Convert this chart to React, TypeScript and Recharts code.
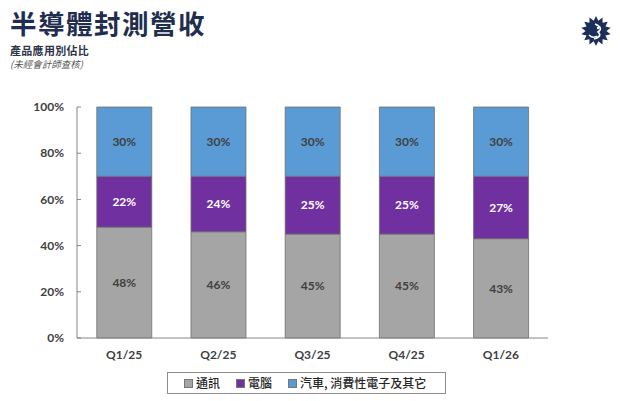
import React from "react";
import { BarChart, Bar, XAxis, YAxis, LabelList } from "recharts";

const categories = ["Q1/25", "Q2/25", "Q3/25", "Q4/25", "Q1/26"];
const commValues = [48, 46, 45, 45, 43];
const pcValues = [22, 24, 25, 25, 27];
const otherValues = [30, 30, 30, 30, 30];
const yTicks = [0, 20, 40, 60, 80, 100];
const boundaryTicks = [0, 1, 2, 3, 4, 5];

const seriesNames = ["通訊", "電腦", "汽車, 消費性電子及其它"];
const seriesColors = ["#a5a5a5", "#7030a0", "#5b9bd5"];
const labelColors = ["#404040", "#ffffff", "#404040"];

const data = categories.map((c, i) => ({
  name: c,
  idx: i + 0.5,
  comm: commValues[i],
  pc: pcValues[i],
  other: otherValues[i],
}));

const keys = ["comm", "pc", "other"];
const FONT = "Lato, 'Noto Sans CJK TC', sans-serif";
const CJK = "'Noto Sans CJK TC', sans-serif";

function Logo() {
  const cx = 596, cy = 31, rO = 15, rI = 10.5, n = 14;
  const pts: string[] = [];
  for (let i = 0; i < n * 2; i++) {
    const r = i % 2 === 0 ? rO : rI;
    const a = (Math.PI * i) / n - Math.PI / 2;
    pts.push(`${cx + r * Math.cos(a)},${cy + r * Math.sin(a)}`);
  }
  return (
    <svg width={620} height={60} style={{ position: "absolute", left: 0, top: 0 }}>
      <polygon points={pts.join(" ")} fill="#1c2f5a" />
      <path d={`M ${cx - 1} ${cy - 7} Q ${cx + 8} ${cy - 3} ${cx + 2} ${cy + 1} Q ${cx + 7} ${cy + 5} ${cx - 2} ${cy + 8}`} stroke="#fff" strokeWidth={1.6} fill="none" />
      <circle cx={cx + 2} cy={cy - 3} r={1.2} fill="#fff" />
      <path d={`M ${cx - 7} ${cy + 4} Q ${cx - 3} ${cy + 8} ${cx + 1} ${cy + 5}`} stroke="#fff" strokeWidth={1.4} fill="none" />
    </svg>
  );
}

export default function App() {
  return (
    <div style={{ position: "absolute", left: 0, top: 0, width: 620, height: 401, background: "#fff", overflow: "hidden" }}>
      <div style={{ position: "absolute", left: 10, top: 7.5, fontFamily: CJK, fontWeight: 700, fontSize: 26.5, color: "#1f2e4f", lineHeight: "30px", letterSpacing: 1.5 }}>
        半導體封測營收
      </div>
      <div style={{ position: "absolute", left: 10, top: 43.5, fontFamily: CJK, fontWeight: 700, fontSize: 11, color: "#2d3448", lineHeight: "13px", letterSpacing: 0.3 }}>
        產品應用別佔比
      </div>
      <div style={{ position: "absolute", left: 10, top: 59, fontFamily: CJK, fontStyle: "italic", fontSize: 9.5, color: "#555", lineHeight: "11px" }}>
        (未經會計師查核)
      </div>
      <Logo />
      <div style={{ position: "absolute", left: 0, top: 0 }}>
        <BarChart
          width={620}
          height={401}
          data={data}
          margin={{ top: 107, right: 72, bottom: 33, left: 0 }}
          barCategoryGap="21%"
        >
          <XAxis
            xAxisId="b"
            type="number"
            dataKey="idx"
            domain={[0, 5]}
            ticks={boundaryTicks}
            height={0}
            axisLine={false}
            tick={false}
            tickSize={-5}
            tickLine={{ stroke: "#868686" }}
          />
          <XAxis
            dataKey="name"
            height={30}
            axisLine={{ stroke: "#868686" }}
            tickLine={false}
            tickSize={0}
            tickMargin={12}
            tick={{ fill: "#404040", fontSize: 12, fontWeight: 700, fontFamily: FONT }}
          />
          <YAxis
            width={77}
            domain={[0, 100]}
            ticks={yTicks}
            tickFormatter={(v: number) => `${v}%`}
            axisLine={{ stroke: "#868686" }}
            tickLine={{ stroke: "#868686" }}
            tickSize={-4}
            tickMargin={17}
            tick={{ fill: "#404040", fontSize: 12, fontWeight: 700, fontFamily: FONT }}
          />
          {keys.map((k, i) => (
            <Bar
              key={k}
              dataKey={k}
              stackId="s"
              fill={seriesColors[i]}
              stroke="#6e6e6e"
              strokeWidth={0.8}
              isAnimationActive={false}
            >
              <LabelList
                dataKey={k}
                position="center"
                formatter={(v: number) => `${v}%`}
                fill={labelColors[i]}
                style={{ fontSize: 12, fontWeight: 700, fontFamily: FONT, fill: labelColors[i] }}
              />
            </Bar>
          ))}
        </BarChart>
      </div>
      <div
        style={{
          position: "absolute",
          left: 167,
          top: 372,
          width: 277,
          height: 20,
          border: "1px solid #8c8c8c",
          display: "flex",
          alignItems: "center",
          fontFamily: CJK,
          fontSize: 12,
          fontWeight: 500,
          color: "#262626",
          boxSizing: "content-box",
        }}
      >
        {seriesNames.map((n, i) => (
          <div key={n} style={{ display: "flex", alignItems: "center", marginLeft: 16 }}>
            <span style={{ display: "inline-block", width: 7, height: 7, background: seriesColors[i], border: "1px solid #777", marginRight: 3 }} />
            <span style={{ lineHeight: "14px" }}>{n}</span>
          </div>
        ))}
      </div>
    </div>
  );
}
